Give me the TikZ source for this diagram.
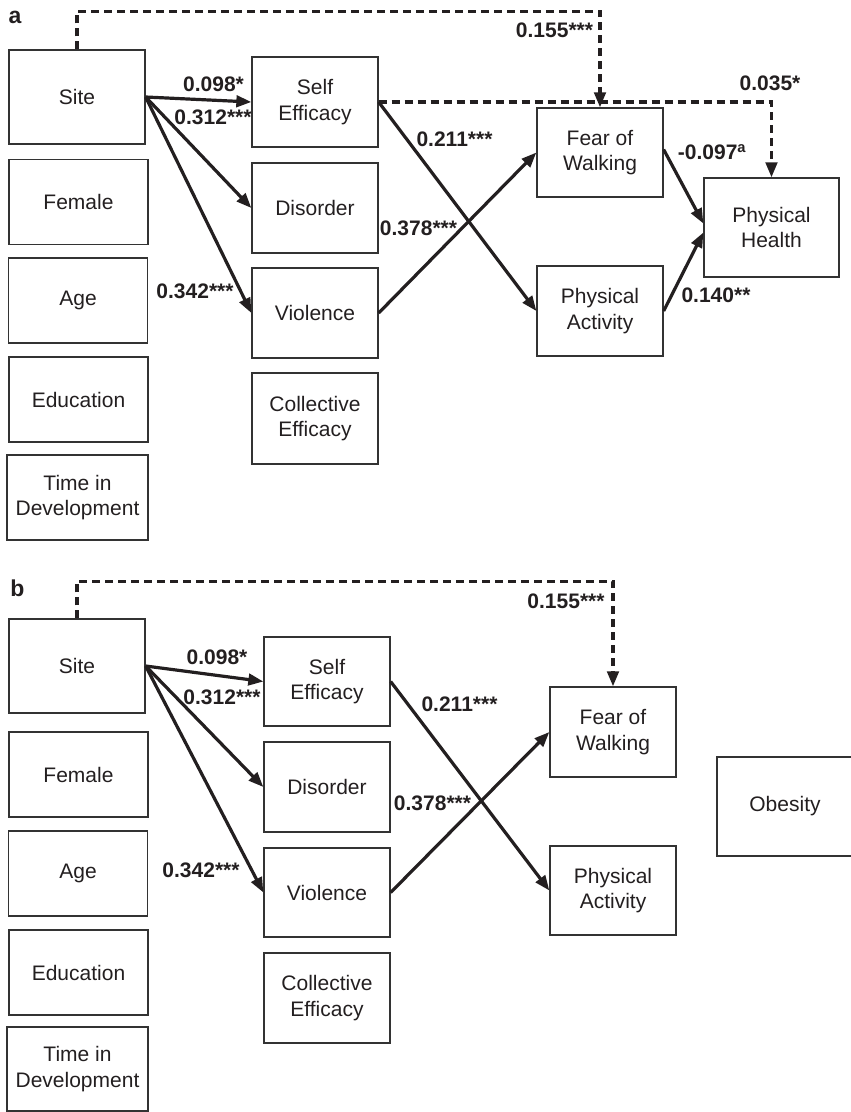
\documentclass[tikz,border=0pt]{standalone}
\usepackage{fontspec}
\setmainfont{Liberation Sans}
\usepackage{tikz}
\usetikzlibrary{arrows.meta}
\definecolor{inkblack}{HTML}{231F20}
\definecolor{boxline}{HTML}{333333}
\newcommand{\figfont}{\fontsize{21}{25.7}\selectfont}
\tikzset{
  % --- variable boxes ---
  varbox/.style={draw=boxline, line width=1.3pt, align=center, font=\figfont,
                 text=inkblack, inner sep=0pt, minimum width=126pt, minimum height=90pt},
  ctrlbox/.style={varbox, minimum width=139pt, minimum height=85pt},
  sitebox/.style={varbox, minimum width=136pt, minimum height=94pt},
  outbox/.style={varbox, minimum width=135pt, minimum height=99pt},
  % --- paths and coefficients ---
  effect/.style={-{Triangle[length=15pt,width=11.5pt]}, line width=3.2pt, draw=inkblack},
  sitedash/.style={effect, dash pattern=on 8pt off 5pt},
  coef/.style={font=\figfont\bfseries, text=inkblack, inner sep=0pt},
  panellabel/.style={font=\fontsize{23}{23}\selectfont\bfseries, text=inkblack, inner sep=0pt},
}

\begin{document}
\begin{tikzpicture}[x=1pt, y=-1pt]
  \useasboundingbox (0,0) rectangle (851,1112);

  % ===== panel a =====
  \node[panellabel] (labA) at (15,17) {a};
  % controls, left column
  \node[sitebox] (siteA) at (77,97)    {Site};
  \node[ctrlbox] (femA)  at (78.5,202) {Female};
  \node[ctrlbox] (ageA)  at (78,300.5) {Age};
  \node[ctrlbox] (eduA)  at (78.5,399.5) {Education};
  \node[ctrlbox, minimum width=141pt] (timeA) at (77.5,497.5) {Time in\\Development};
  % mediators
  \node[varbox] (seA)   at (315,102)   {Self\\Efficacy};
  \node[varbox] (disA)  at (315,208)   {Disorder};
  \node[varbox] (vioA)  at (315,313)   {Violence};
  \node[varbox, minimum height=91pt] (colA) at (315,418.5) {Collective\\Efficacy};
  \node[varbox, minimum height=89pt] (fearA) at (600,152.5) {Fear of\\Walking};
  \node[varbox] (paA)   at (600,311)   {Physical\\Activity};
  \node[outbox] (phA)   at (771.5,227.5) {Physical\\Health};

  % paths
  \draw[effect] (siteA.east) -- (seA.west);
  \draw[effect] (siteA.east) -- (disA.west);
  \draw[effect] (siteA.east) -- (vioA.west);
  \draw[effect] (seA.east) -- (paA.west);
  \draw[effect] (vioA.east) -- (fearA.west);
  \draw[effect] ([yshift=3pt]fearA.east) -- ([yshift=4pt]phA.west);
  \draw[effect] (paA.east) -- ([yshift=-5pt]phA.west);
  \draw[sitedash] (siteA.north) -- ++(0,-38) -| (fearA.north);
  \draw[sitedash] (seA.east) -| (phA.north);

  % coefficients
  \node[coef] (c155A) at (554.5,30)  {0.155***};
  \node[coef] (c035A) at (770,83)    {0.035*};
  \node[coef] (c098A) at (213.5,84)  {0.098*};
  \node[coef] (c312A) at (213,117)   {0.312***};
  \node[coef] (c342A) at (195,291)   {0.342***};
  \node[coef] (c211A) at (454.5,139.5) {0.211***};
  \node[coef] (c378A) at (418.5,228) {0.378***};
  \node[coef] (c097A) at (712,152)   {-0.097\textsuperscript{a}};
  \node[coef] (c140A) at (716,295)   {0.140**};

  % ===== panel b =====
  \node[panellabel] (labB) at (17.5,588) {b};
  \node[sitebox] (siteB) at (77,666)   {Site};
  \node[ctrlbox] (femB)  at (78.5,774.5) {Female};
  \node[ctrlbox] (ageB)  at (78,873.5) {Age};
  \node[ctrlbox] (eduB)  at (78.5,972.5) {Education};
  \node[ctrlbox, minimum width=141pt, minimum height=84pt] (timeB) at (77.5,1069) {Time in\\Development};
  \node[varbox, minimum height=89pt] (seB) at (327,681.5) {Self\\Efficacy};
  \node[varbox] (disB)  at (327,787)   {Disorder};
  \node[varbox, minimum height=89pt] (vioB) at (327,892.5) {Violence};
  \node[varbox] (colB)  at (327,998)   {Collective\\Efficacy};
  \node[varbox] (fearB) at (613,732)   {Fear of\\Walking};
  \node[varbox, minimum height=89pt] (paB) at (613,890.5) {Physical\\Activity};
  \node[outbox, minimum width=136pt] (obB) at (785,806.5) {Obesity};

  \draw[effect] (siteB.east) -- (seB.west);
  \draw[effect] (siteB.east) -- (disB.west);
  \draw[effect] (siteB.east) -- (vioB.west);
  \draw[effect] (seB.east) -- (paB.west);
  \draw[effect] (vioB.east) -- (fearB.west);
  \draw[sitedash] (siteB.north) -- ++(0,-37) -| (fearB.north);

  \node[coef] (c155B) at (566,601)   {0.155***};
  \node[coef] (c098B) at (217,657)   {0.098*};
  \node[coef] (c312B) at (222,697)   {0.312***};
  \node[coef] (c342B) at (201,870)   {0.342***};
  \node[coef] (c211B) at (459.5,704) {0.211***};
  \node[coef] (c378B) at (432.5,803) {0.378***};
\end{tikzpicture}
\end{document}
